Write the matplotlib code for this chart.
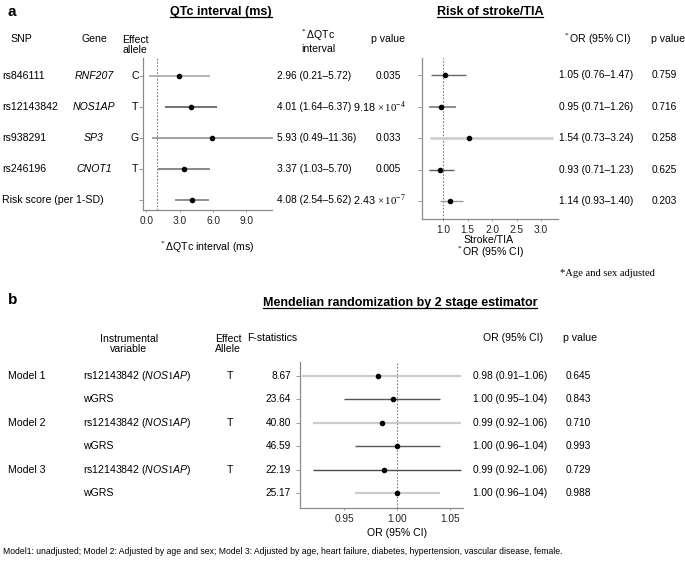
import matplotlib
matplotlib.use('Agg')
import matplotlib.pyplot as plt
from matplotlib.lines import Line2D
from matplotlib.transforms import blended_transform_factory

plt.rcParams['font.family'] = ['Liberation Sans', 'DejaVu Sans']
plt.rcParams['mathtext.fontset'] = 'custom'
plt.rcParams['mathtext.rm'] = 'Liberation Serif'
plt.rcParams['mathtext.it'] = 'Liberation Sans:italic'
plt.rcParams['mathtext.sf'] = 'Liberation Sans'

# ---- data: panel a ----
snps = ['rs846111', 'rs12143842', 'rs938291', 'rs246196', 'Risk score (per 1-SD)']
genes = ['RNF207', 'NOS1AP', 'SP3', 'CNOT1', '']
alleles = ['C', 'T', 'G', 'T', '']
qtc_est = [2.96, 4.01, 5.93, 3.37, 4.08]
qtc_lo = [0.21, 1.64, 0.49, 1.03, 2.54]
qtc_hi = [5.72, 6.37, 11.36, 5.70, 5.62]
qtc_p = ['0.035', r'9.18 $\times\,10^{-4}$', '0.033', '0.005', r'2.43 $\times\,10^{-7}$']
stroke_or = [1.05, 0.95, 1.54, 0.93, 1.14]
stroke_lo = [0.76, 0.71, 0.73, 0.71, 0.93]
stroke_hi = [1.47, 1.26, 3.24, 1.23, 1.40]
stroke_p = ['0.759', '0.716', '0.258', '0.625', '0.203']

# ---- data: panel b ----
models = ['Model 1', '', 'Model 2', '', 'Model 3', '']
ivs = [r'rs12143842 ($\mathit{NOS1AP}$)', 'wGRS'] * 3
mr_alleles = ['T', '', 'T', '', 'T', '']
fstats = ['8.67', '23.64', '40.80', '46.59', '22.19', '25.17']
mr_or = [0.982, 0.996, 0.986, 1.000, 0.987, 1.000]
mr_lo = [0.91, 0.95, 0.92, 0.96, 0.92, 0.96]
mr_hi = [1.06, 1.04, 1.06, 1.04, 1.06, 1.04]
mr_p = ['0.645', '0.843', '0.710', '0.993', '0.729', '0.988']

# line styles for the CIs
qtc_col = ['#a0a0a0', '#4a4a4a', '#8a8a8a', '#6a6a6a', '#707070']
qtc_lw = [1.1, 1.1, 1.1, 1.1, 1.1]
stroke_col = ['#666666', '#8c8c8c', '#cccccc', '#5a5a5a', '#9a9a9a']
stroke_lw = [1.0, 1.4, 1.8, 1.0, 1.0]
mr_col = ['#cccccc', '#555555', '#cccccc', '#5a5a5a', '#4a4a4a', '#cccccc']
mr_lw = [1.6, 1.0, 1.6, 1.0, 1.0, 1.6]

W, H = 685, 564
fig = plt.figure(figsize=(W / 100, H / 100), dpi=100)
FS = 7.6
FN = 7.3  # numeric columns


def fx(x):
    return x / W


def fy(y):
    return 1 - y / H


def txt(x, y, s, **kw):
    kw.setdefault('fontsize', FS)
    kw.setdefault('ha', 'center')
    kw.setdefault('va', 'center')
    return fig.text(fx(x), fy(y), s, **kw)


def forest(box, est, lo, hi, cols, lws, ref, xlim, ylim, ticks, ticklabels):
    l, t, r, b = box
    ax = fig.add_axes([fx(l), fy(b), (r - l) / W, (b - t) / H])
    rows = list(range(len(est)))
    ax.hlines(rows, lo, hi, colors=cols, linewidths=lws, clip_on=False, zorder=2)
    ax.plot(est, rows, 'o', color='black', ms=3, clip_on=False, zorder=3)
    ax.axvline(ref, color='#808080', lw=0.8, ls=(0, (1.5, 1.5)), zorder=1)
    ax.set_xlim(*xlim)
    ax.set_ylim(*ylim)
    ax.set_yticks(rows)
    ax.set_yticklabels([])
    ax.set_xticks(ticks)
    ax.set_xticklabels(ticklabels, fontsize=FN)
    for s in ['top', 'right']:
        ax.spines[s].set_visible(False)
    for s in ['left', 'bottom']:
        ax.spines[s].set_color('#8a8a8a')
        ax.spines[s].set_linewidth(0.9)
    ax.tick_params(axis='y', length=3, color='#8a8a8a', width=0.6)
    ax.tick_params(axis='x', length=1.5, color='#8a8a8a', width=0.6, pad=3, labelcolor='#222222')
    ax.patch.set_alpha(0)
    return ax


# ---------------- panel a ----------------
ax1 = forest((143, 58, 272, 210), qtc_est, qtc_lo, qtc_hi, qtc_col, qtc_lw, 1.0,
             (-0.3, 11.3), (4.32, -0.58), [0, 3, 6, 9], ['0.0', '3.0', '6.0', '9.0'])
ax2 = forest((422, 58, 558, 219), stroke_or, stroke_lo, stroke_hi, stroke_col, stroke_lw, 1.0,
             (0.571, 3.347), (4.57, -0.54), [1.0, 1.5, 2.0, 2.5, 3.0],
             ['1.0', '1.5', '2.0', '2.5', '3.0'])

tr1 = blended_transform_factory(fig.transFigure, ax1.transData)
tr2 = blended_transform_factory(fig.transFigure, ax2.transData)
for i in range(len(snps)):
    fig.text(fx(2), i, snps[i], transform=tr1, fontsize=FS, va='center', ha='left')
    fig.text(fx(94), i, genes[i], transform=tr1, fontsize=FS, va='center', ha='center', style='italic')
    fig.text(fx(135), i, alleles[i], transform=tr1, fontsize=FS, va='center', ha='center')
    fig.text(fx(277), i, f'{qtc_est[i]:.2f} ({qtc_lo[i]:.2f}\u2013{qtc_hi[i]:.2f})',
             transform=tr1, fontsize=FN, va='center', ha='left')
    if '10^' in qtc_p[i]:
        fig.text(fx(353), i, qtc_p[i], transform=tr1, fontsize=7.8, va='center', ha='left')
    else:
        fig.text(fx(388), i, qtc_p[i], transform=tr1, fontsize=FN, va='center', ha='center')
    fig.text(fx(559), i, f'{stroke_or[i]:.2f} ({stroke_lo[i]:.2f}\u2013{stroke_hi[i]:.2f})',
             transform=tr2, fontsize=FN, va='center', ha='left')
    fig.text(fx(652), i, stroke_p[i], transform=tr2, fontsize=FN, va='center', ha='left')

txt(8, 12, 'a', fontsize=11, fontweight='bold', ha='left')
t_qtc = txt(221, 12, 'QTc interval (ms)', fontsize=9, fontweight='bold')
t_stroke = txt(490, 12, 'Risk of stroke/TIA', fontsize=9, fontweight='bold')
txt(21, 39, 'SNP')
txt(94, 39, 'Gene')
txt(135, 45, 'Effect\nallele', linespacing=1.1)
txt(318, 41, '$^*$\u0394QTc\ninterval', linespacing=1.1)
txt(388, 39, 'p value')
txt(597, 39, '$^*$OR (95% CI)')
txt(668, 39, 'p value')
txt(207, 247, '$^*$\u0394QTc interval (ms)')
txt(489, 240, 'Stroke/TIA')
txt(490, 252, '$^*$OR (95% CI)')
txt(560, 273, '*Age and sex adjusted', ha='left', family='Liberation Serif', fontsize=7.6)

# ---------------- panel b ----------------
ax3 = forest((300, 362, 463, 508), mr_or, mr_lo, mr_hi, mr_col, mr_lw, 1.0,
             (0.9082, 1.062), (5.63, -0.58), [0.95, 1.00, 1.05], ['0.95', '1.00', '1.05'])
tr3 = blended_transform_factory(fig.transFigure, ax3.transData)
for i in range(len(ivs)):
    fig.text(fx(8), i, models[i], transform=tr3, fontsize=FS, va='center', ha='left')
    fig.text(fx(83), i, ivs[i], transform=tr3, fontsize=FS, va='center', ha='left')
    fig.text(fx(230), i, mr_alleles[i], transform=tr3, fontsize=FS, va='center', ha='center')
    fig.text(fx(291), i, fstats[i], transform=tr3, fontsize=FN, va='center', ha='right')
    fig.text(fx(473), i, f'{mr_or[i]:.2f} ({mr_lo[i]:.2f}\u2013{mr_hi[i]:.2f})',
             transform=tr3, fontsize=FN, va='center', ha='left')
    fig.text(fx(566), i, mr_p[i], transform=tr3, fontsize=FN, va='center', ha='left')

txt(8, 300, 'b', fontsize=11, fontweight='bold', ha='left')
t_mr = txt(400, 303, 'Mendelian randomization by 2 stage estimator', fontsize=9, fontweight='bold')
txt(129, 344, 'Instrumental\nvariable', linespacing=1.1)
txt(228, 344, 'Effect\nAllele', linespacing=1.1)
txt(272, 338, 'F-statistics')
txt(513, 338, 'OR (95% CI)')
txt(580, 338, 'p value')
txt(397, 533, 'OR (95% CI)')
txt(3, 552, 'Model1: unadjusted; Model 2: Adjusted by age and sex; Model 3: Adjusted by age, '
    'heart failure, diabetes, hypertension, vascular disease, female.', fontsize=6.2, ha='left')

# underline the bold titles
fig.canvas.draw()
rend = fig.canvas.get_renderer()
for t in [t_qtc, t_stroke, t_mr]:
    bb = t.get_window_extent(rend)
    y = (bb.y0 + 1) / fig.bbox.height
    fig.add_artist(Line2D([bb.x0 / fig.bbox.width, bb.x1 / fig.bbox.width], [y, y],
                          transform=fig.transFigure, color='black', lw=0.9))

fig.savefig('out.png', dpi=100)
